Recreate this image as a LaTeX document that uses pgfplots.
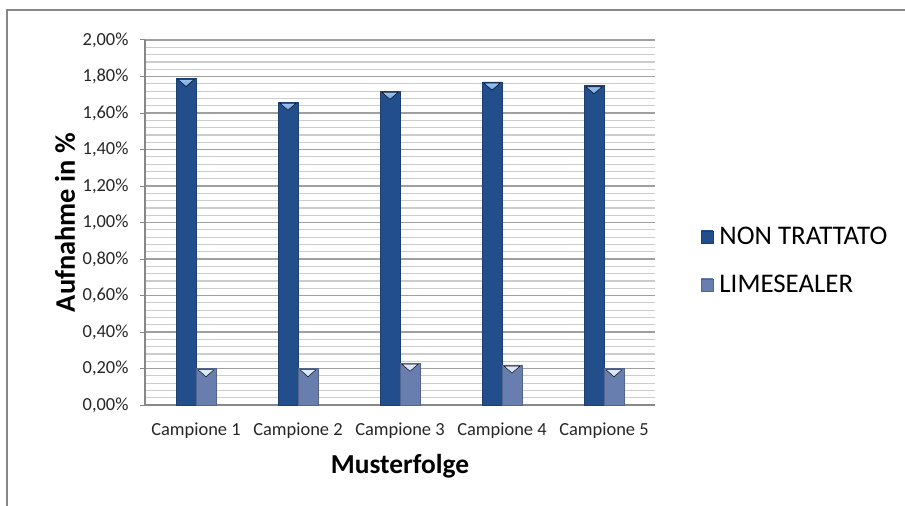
\documentclass[border=0pt]{standalone}
\usepackage{fontspec}
\setmainfont{Carlito}
\usepackage{pgfplots}
\pgfplotsset{compat=1.18}

\definecolor{darkA}{HTML}{234E8C}
\definecolor{darkB}{HTML}{3469B2}
\definecolor{darkT}{HTML}{6EA6E6}
\definecolor{liteA}{HTML}{687EAF}
\definecolor{liteB}{HTML}{869BCB}
\definecolor{liteT}{HTML}{D0E0F8}
\definecolor{frame}{HTML}{878787}

\begin{document}
\begin{tikzpicture}[x=1bp,y=1bp]
\useasboundingbox (0,0) rectangle (905,-506);
% outer chart border (right and bottom cut off in the original)
\draw[frame, line width=2bp] (7,-506) -- (7,-10) -- (905,-10);

\begin{axis}[
  at={(145bp,-405bp)}, anchor=south west,
  scale only axis, width=510bp, height=365bp,
  ybar=0pt, bar width=20bp,
  xmin=0.5, xmax=5.5,
  ymin=0, ymax=2,
  xtick={1,2,3,4,5},
  xticklabels={Campione 1,Campione 2,Campione 3,Campione 4,Campione 5},
  ytick={0,0.2,...,2.01},
  minor y tick num=4,
  yticklabel={\pgfmathprintnumber[fixed,fixed zerofill,precision=2,use comma]{\tick}\%},
  /pgf/number format/assume math mode=true,
  axis x line*=bottom, axis y line*=left,
  axis line style={frame, line width=1.2bp},
  tick align=outside,
  major tick length=5bp, minor tick length=0pt,
  xtick style={draw=none},
  ytick style={frame, line width=1bp},
  ymajorgrids, yminorgrids,
  major grid style={gray!75, line width=1.2bp},
  minor grid style={gray!40, line width=1.2bp},
  tick label style={font=\fontsize{18.5}{20}\selectfont, text=black!85},
  yticklabel style={xshift=-8bp},
  xticklabel style={yshift=-9bp},
  xlabel={Musterfolge},
  ylabel={Aufnahme in \%},
  every axis x label/.style={at={(axis description cs:0.5,-0.167)}, anchor=center,
    font=\bfseries\fontsize{27.5}{30}\selectfont},
  every axis y label/.style={at={(axis description cs:-0.157,0.5)}, rotate=90, anchor=center,
    font=\bfseries\fontsize{28.5}{30}\selectfont},
  legend style={at={(axis description cs:1.084,0.395)}, anchor=west,
    draw=none, fill=none, font=\fontsize{27}{29}\selectfont, row sep=25bp,
    nodes={inner xsep=6bp}},
  legend cell align=left,
  legend image code/.code={\draw[#1] (0bp,-6bp) rectangle (12bp,6bp);},
  % light triangle at the top of each bar
  nodes near coords={\tikz[x=1bp,y=1bp]\fill[top color=\pgfkeysvalueof{/pgfplots/tricol}!70!white,
      bottom color=\pgfkeysvalueof{/pgfplots/tricol}] (0,0)--(16,0)--(8,-7)--cycle;},
  every node near coord/.append style={anchor=north, inner sep=0pt, outer sep=0pt, yshift=-1bp},
  tricol/.initial=white,
]
\addplot[draw=darkA!80!black, left color=darkA, middle color=darkB, right color=darkA, tricol=darkT]
  coordinates {(1,1.79) (2,1.66) (3,1.72) (4,1.77) (5,1.75)};
\addlegendentry{NON TRATTATO}
\addplot[draw=liteA!80!black, left color=liteA, middle color=liteB, right color=liteA, tricol=liteT]
  coordinates {(1,0.20) (2,0.20) (3,0.23) (4,0.22) (5,0.20)};
\addlegendentry{LIMESEALER}
\end{axis}
\end{tikzpicture}
\end{document}
